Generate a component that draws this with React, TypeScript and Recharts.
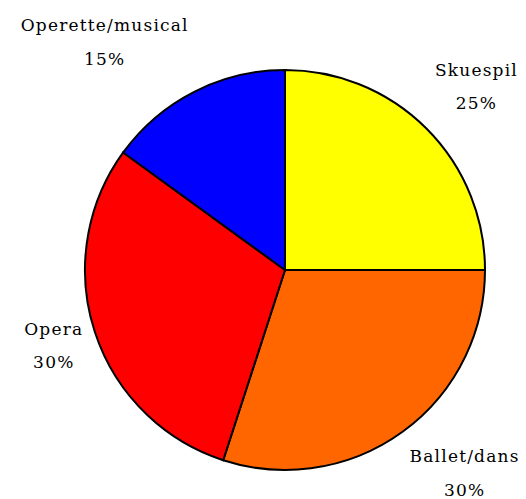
import { PieChart, Pie, Cell } from "recharts";

const categories = ["Skuespil", "Ballet/dans", "Opera", "Operette/musical"];
const shares = [25, 30, 30, 15];
const colors = ["#FFFF00", "#FF6600", "#FF0000", "#0000FF"];

const data = categories.map((name, i) => ({ name, value: shares[i] }));

const FONT_SIZE = 17;
const LETTER_SPACING = 1.2;
const FONT = '"DejaVu Serif", serif';

let ctx: CanvasRenderingContext2D | null = null;
function textWidth(s: string) {
  if (!ctx) ctx = document.createElement("canvas").getContext("2d");
  if (!ctx) return s.length * 9;
  ctx.font = `${FONT_SIZE}px "DejaVu Serif"`;
  return ctx.measureText(s).width + s.length * LETTER_SPACING;
}

// label box sits just outside the rim, anchored at its corner nearest the pie
const renderLabel = (p: any) => {
  const rad = Math.PI / 180;
  const dx = Math.cos(-p.midAngle * rad);
  const dy = Math.sin(-p.midAngle * rad);
  const r = p.outerRadius + 12;
  const name = p.payload?.name ?? p.name;
  const pct = `${Math.round(p.percent * 100)}%`;
  const w = Math.max(textWidth(name), textWidth(pct));
  const x = p.cx + r * dx + Math.sign(dx) * (w / 2);
  const yc = p.cy + r * dy + Math.sign(dy) * 36 * Math.min(1, Math.abs(dy) * 1.2);
  const style = { fontFamily: FONT, fontSize: FONT_SIZE, letterSpacing: LETTER_SPACING, fill: "#000" };
  return (
    <g>
      <text x={x} y={yc - 14} textAnchor="middle" style={style}>{name}</text>
      <text x={x} y={yc + 19.5} textAnchor="middle" style={style}>{pct}</text>
    </g>
  );
};

export default function App() {
  return (
    <div style={{ position: "absolute", left: 0, top: 0, background: "#fff" }}>
      <PieChart width={526} height={499} margin={{ top: 0, right: 0, bottom: 0, left: 0 }}>
        <Pie
          data={data}
          dataKey="value"
          nameKey="name"
          cx={285}
          cy={270}
          outerRadius={200}
          startAngle={90}
          endAngle={-270}
          stroke="#000"
          strokeWidth={2}
          label={renderLabel}
          labelLine={false}
          isAnimationActive={false}
        >
          {data.map((_, i) => (
            <Cell key={i} fill={colors[i]} />
          ))}
        </Pie>
      </PieChart>
    </div>
  );
}
